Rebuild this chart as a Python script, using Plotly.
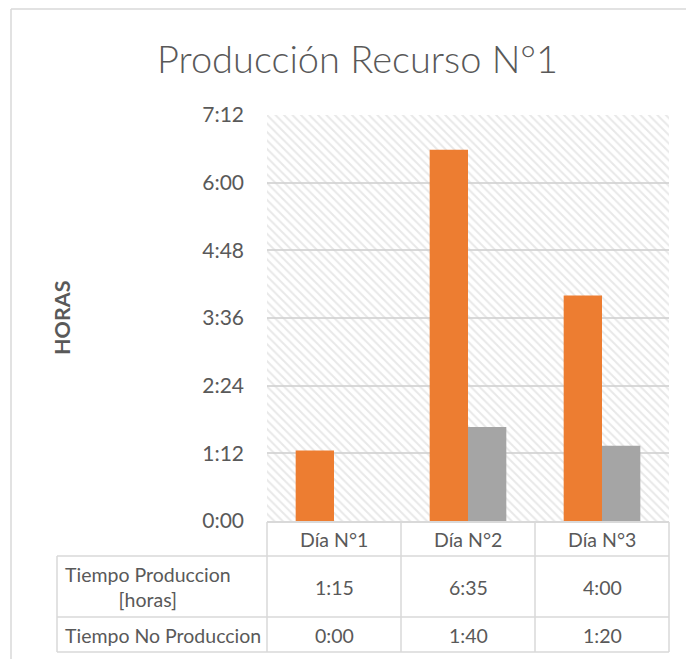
import plotly.graph_objects as go

# Production data, in minutes per day
dias = ["Día N°1", "Día N°2", "Día N°3"]
tiempo_produccion = [75, 395, 240]
tiempo_no_produccion = [0, 100, 80]
serie_nombres = ["Tiempo Produccion<br>[horas]", "Tiempo No Produccion"]
y_ticks = [0, 72, 144, 216, 288, 360, 432]

ORANGE = "#ED7D31"
GRAY = "#A5A5A5"
TEXT = "#595959"
LINE = "#D9D9D9"
FONT = "Lato"

W, H = 686, 659
PL, PR, PT, PB = 267, 669, 115, 521  # plot area in pixels


def hm(minutes):
    return f"{minutes // 60}:{minutes % 60:02d}"


def px_x(px):
    return (px - PL) / (PR - PL)


def px_y(py):
    return (PB - py) / (PB - PT)


fig = go.Figure()

# hatched plot background
fig.add_trace(go.Bar(
    x=[dias[1]], y=[y_ticks[-1]], width=3,
    marker=dict(color="rgba(0,0,0,0)", line_width=0,
                pattern=dict(shape="\\", fgcolor="#D2D2D2", bgcolor="rgba(0,0,0,0)",
                             size=6, solidity=0.33)),
    hoverinfo="skip", showlegend=False,
))

bar_w = 0.286
fig.add_trace(go.Bar(x=dias, y=tiempo_produccion, width=bar_w, offset=-bar_w,
                     marker=dict(color=ORANGE, line_width=0), showlegend=False))
fig.add_trace(go.Bar(x=dias, y=tiempo_no_produccion, width=bar_w, offset=0,
                     marker=dict(color=GRAY, line_width=0), showlegend=False))

shapes = []
ann = []


def hline(y, x0, x1, w=1.5, color=LINE):
    shapes.append(dict(type="line", xref="paper", yref="paper",
                       x0=px_x(x0), x1=px_x(x1), y0=px_y(y), y1=px_y(y),
                       line=dict(color=color, width=w)))


def vline(x, y0, y1, w=1.5, color=LINE):
    shapes.append(dict(type="line", xref="paper", yref="paper",
                       x0=px_x(x), x1=px_x(x), y0=px_y(y0), y1=px_y(y1),
                       line=dict(color=color, width=w)))


# chart frame
hline(9, 11, 700)
vline(11, 9, 700)

# data table grid
rows = [522, 556, 617, 652]
cols = [267, 401, 535, 669]
hline(rows[0], cols[0], cols[-1], w=2)
for r in rows[1:]:
    hline(r, 57, cols[-1])
for c in cols:
    vline(c, rows[0], rows[-1])
vline(57, rows[1], rows[-1])

tfont = dict(family=FONT, size=19.5, color=TEXT)
header_y = 539
row_y = [587, 635]

for i, d in enumerate(dias):
    cx = (cols[i] + cols[i + 1]) / 2
    ann.append(dict(x=px_x(cx), y=px_y(header_y), text=d, font=tfont))
    ann.append(dict(x=px_x(cx), y=px_y(row_y[0]), text=hm(tiempo_produccion[i]), font=tfont))
    ann.append(dict(x=px_x(cx), y=px_y(row_y[1]), text=hm(tiempo_no_produccion[i]), font=tfont))

for name, yy in zip(serie_nombres, row_y):
    ann.append(dict(x=px_x(63), y=px_y(yy), text=name, font=tfont,
                    xanchor="left", align="center"))

# axis title
ann.append(dict(x=px_x(62), y=px_y(318), text="<b>HORAS</b>", textangle=-90,
                font=dict(family=FONT, size=21.5, color=TEXT)))

# chart title
ann.append(dict(x=px_x(357), y=px_y(58), text="Producción Recurso N°1",
                font=dict(family=FONT, size=38, color=TEXT, weight=300)))

for a in ann:
    a.setdefault("xref", "paper")
    a.setdefault("yref", "paper")
    a.setdefault("showarrow", False)
    a.setdefault("xanchor", "center")
    a.setdefault("yanchor", "middle")

fig.update_layout(
    width=W, height=H,
    margin=dict(l=PL, r=W - PR, t=PT, b=H - PB),
    paper_bgcolor="white", plot_bgcolor="white",
    barmode="overlay",
    shapes=shapes, annotations=ann,
    font=dict(family=FONT, color=TEXT),
)
fig.update_xaxes(type="category", categoryorder="array", categoryarray=dias,
                 range=[-0.5, 2.5], showticklabels=False, showgrid=False,
                 zeroline=False, showline=False)
fig.update_yaxes(range=[0, y_ticks[-1]], tickvals=y_ticks,
                 ticktext=[hm(v) for v in y_ticks],
                 tickfont=dict(family=FONT, size=21, color=TEXT),
                 ticklabelstandoff=22,
                 showgrid=True, gridcolor=LINE, gridwidth=2,
                 zeroline=False, showline=False)

fig.write_html("out.html")
